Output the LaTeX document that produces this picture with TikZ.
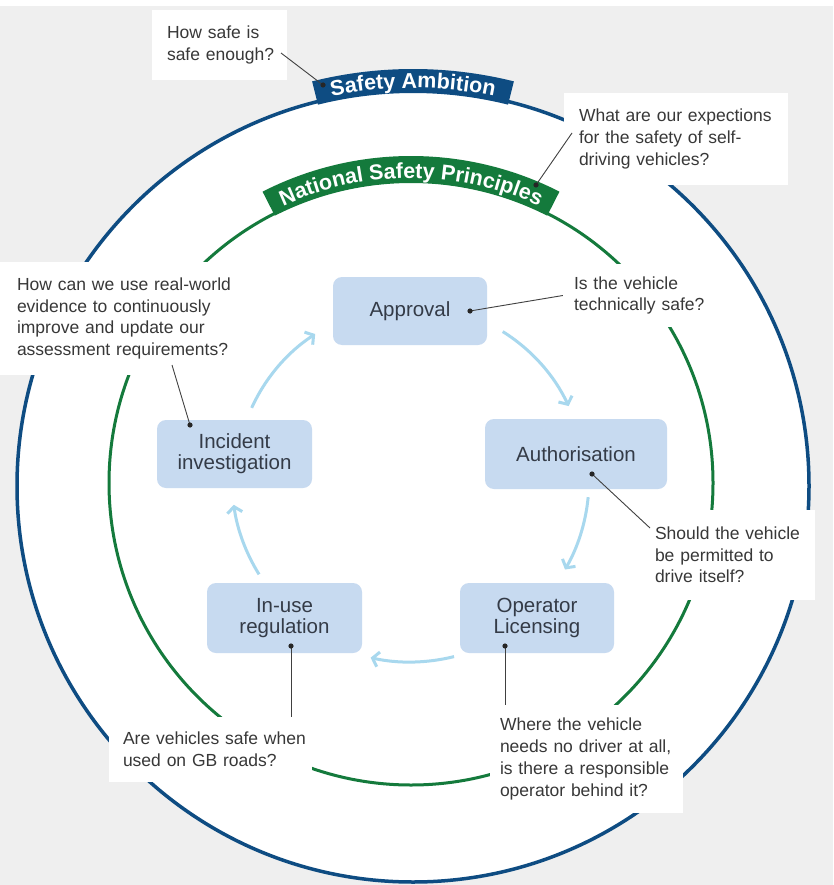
\documentclass[tikz,border=0pt]{standalone}
\usepackage{fontspec}
\setmainfont{Liberation Sans}
\usetikzlibrary{arrows.meta,decorations.text}
\definecolor{bg}{HTML}{EFEFEF}
\definecolor{navy}{HTML}{0E4C82}
\definecolor{nsgreen}{HTML}{147A3C}
\definecolor{boxblue}{HTML}{C7DAF0}
\definecolor{arrowblue}{HTML}{A8D8EE}
\definecolor{boxtext}{HTML}{343B47}
\definecolor{calltext}{HTML}{383838}
\newcommand{\callfont}{\fontsize{17.5}{21.7}\selectfont}
\newcommand{\boxfont}{\fontsize{20.5}{21}\selectfont}
\newcommand{\bannerfont}{\fontsize{21.5}{21.5}\selectfont\bfseries}
\begin{document}
\begin{tikzpicture}[x=1pt,y=-1pt,
  stagebox/.style={fill=boxblue, rounded corners=9pt, inner sep=0pt, align=center, font=\boxfont, text=boxtext},
  qbox/.style={fill=white, inner sep=0pt, align=left, font=\callfont, text=calltext},
  leader/.style={draw=black!75, line width=0.9pt},
  cyc/.style={draw=arrowblue, line width=3pt, -{Straight Barb[length=6pt,width=15pt]}},
]
\useasboundingbox (0,0) rectangle (833,885);
\fill[bg] (0,0) rectangle (833,885);
\fill[white] (0,0) rectangle (833,6);

\coordinate (C1) at (413,486);
\coordinate (C2) at (411,483);
\coordinate (A) at (410,480);

% circles
\draw[navy, line width=3.5pt, fill=white] (C1) circle[radius=396];
\draw[nsgreen, line width=3pt] (C2) circle[radius=302];

% cycle arrows
\draw[cyc] ([shift={(-58:175)}]A) arc[start angle=-58,end angle=-25,radius=175];
\draw[cyc] ([shift={(5.5:179)}]A) arc[start angle=5.5,end angle=30,radius=179];
\draw[cyc] ([shift={(76:182)}]A) arc[start angle=76,end angle=102.5,radius=182];
\draw[cyc] ([shift={(148:178)}]A) arc[start angle=148,end angle=172,radius=178];
\draw[cyc] ([shift={(-155.5:174)}]A) arc[start angle=-155.5,end angle=-123,radius=174];

% stage boxes
\node[stagebox, minimum width=154pt, minimum height=68pt] (approval) at (410,311) {Approval};
\node[stagebox, minimum width=182pt, minimum height=70pt] (auth) at (576,454) {Authorisation};
\node[stagebox, minimum width=154pt, minimum height=70pt] (oper) at (537,618) {Operator\\Licensing};
\node[stagebox, minimum width=155pt, minimum height=70pt] (inuse) at (284.5,618) {In-use\\regulation};
\node[stagebox, minimum width=155pt, minimum height=68pt] (incident) at (234.5,454) {Incident\\investigation};

% callouts
\node[qbox, minimum width=135pt, minimum height=70pt, text width=105pt] (qSafe) at (219.5,45)
  {\mbox{How safe is}\\\mbox{safe enough?}};
\node[qbox, minimum width=224pt, minimum height=92pt, text width=194pt] (qExpect) at (676,139)
  {\mbox{What are our expections}\\\mbox{for the safety of self-}\\\mbox{driving vehicles?}};
\node[qbox, minimum width=233pt, minimum height=113pt, text width=199pt] (qReal) at (116.5,318.5)
  {\mbox{How can we use real-world}\\\mbox{evidence to continuously}\\\mbox{improve and update our}\\\mbox{assessment requirements?}};
\node[qbox, minimum width=149pt, minimum height=63pt, text width=127pt] (qTech) at (637.5,295.5)
  {\mbox{Is the vehicle}\\\mbox{technically safe?}};
\node[qbox, minimum width=170pt, minimum height=90pt, text width=150pt] (qPerm) at (730,555)
  {\mbox{Should the vehicle}\\\mbox{be permitted to}\\\mbox{drive itself?}};
\node[qbox, minimum width=193pt, minimum height=108pt, text width=173pt] (qOper) at (586.5,759)
  {\mbox{Where the vehicle}\\\mbox{needs no driver at all,}\\\mbox{is there a responsible}\\\mbox{operator behind it?}};
\node[qbox, minimum width=203pt, minimum height=65pt, text width=175pt] (qRoad) at (210.5,749.5)
  {\mbox{Are vehicles safe when}\\\mbox{used on GB roads?}};

% banners
\fill[navy] ([shift={(-104:417)}]C1) arc[start angle=-104,end angle=-76,radius=417]
  -- ([shift={(-76:393)}]C1) arc[start angle=-76,end angle=-104,radius=393] -- cycle;
\path[decorate, decoration={text along path, text align=center,
  text={|\color{white}\bannerfont|Safety Ambition}}]
  ([shift={(-104:398)}]C1) arc[start angle=-104,end angle=-76,radius=398];
\fill[nsgreen] ([shift={(-117:327)}]C2) arc[start angle=-117,end angle=-63,radius=327]
  -- ([shift={(-63:300)}]C2) arc[start angle=-63,end angle=-117,radius=300] -- cycle;
\path[decorate, decoration={text along path, text align=center,
  text={|\color{white}\bannerfont|National Safety Principles}}]
  ([shift={(-117:305)}]C2) arc[start angle=-117,end angle=-63,radius=305];

% leader lines and dots
\coordinate (dSafe) at (323,85);
\coordinate (dNSP) at (536,185);
\coordinate (dApproval) at (470,311);
\coordinate (dAuth) at (592,474);
\coordinate (dOper) at (505,646);
\coordinate (dInuse) at (291,646);
\coordinate (dIncident) at (190,425);
\coordinate (lSafe) at (281,53);
\coordinate (lExpect) at (572,133);
\coordinate (lPerm) at (650,528);
\coordinate (lReal) at (172,365);

\draw[leader] (lSafe) -- (dSafe);
\draw[leader] (lExpect) -- (dNSP);
\draw[leader] (dApproval) -- (qTech.west);
\draw[leader] (dAuth) -- (lPerm);
\draw[leader] (dOper) -- (dOper |- qOper.north);
\draw[leader] (dInuse) -- (dInuse |- qRoad.north);
\draw[leader] (dIncident) -- (lReal);
\foreach \d in {dSafe,dNSP,dApproval,dAuth,dOper,dInuse,dIncident}
  \fill[black!85] (\d) circle[radius=2.6];
\end{tikzpicture}
\end{document}
